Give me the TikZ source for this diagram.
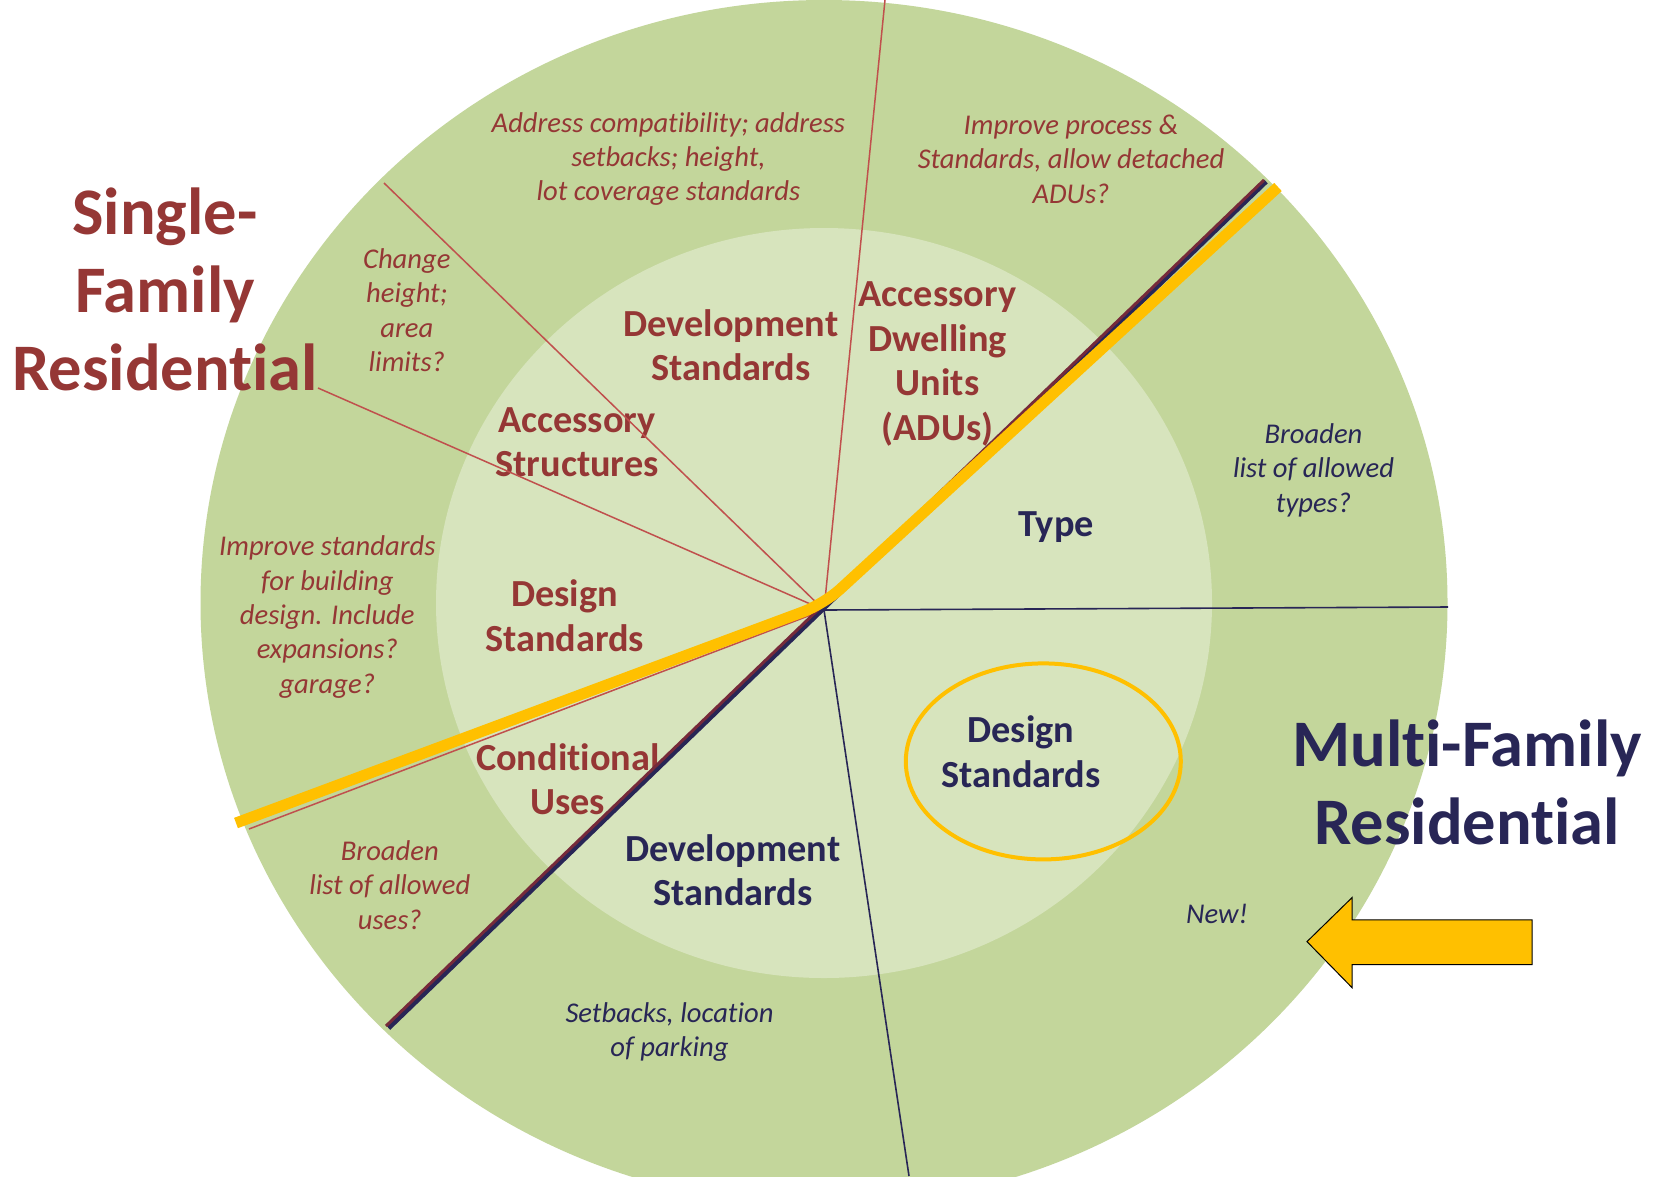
\documentclass[tikz,border=0pt]{standalone}
\usepackage{fontspec}
\setmainfont{Carlito}[Ligatures=NoCommon]
\usetikzlibrary{calc}

\definecolor{ringouter}{RGB}{195,214,155}
\definecolor{ringinner}{RGB}{215,228,189}
\definecolor{sfred}{RGB}{149,55,53}
\definecolor{mfnavy}{RGB}{40,38,86}
\definecolor{cutred}{RGB}{192,80,77}
\definecolor{cutmaroon}{RGB}{118,42,58}
\definecolor{gold}{RGB}{255,192,0}

\tikzset{
	zone/.style={font=\bfseries\fontsize{66.5}{78}\selectfont, align=center, inner sep=0pt},
	part/.style={font=\bfseries\fontsize{38.3}{44.5}\selectfont, align=center, inner sep=0pt},
	hint/.style={font=\itshape\fontsize{28.6}{34.4}\selectfont, align=center, inner sep=0pt},
	redcut/.style={draw=cutred, line width=1.5pt},
	navycut/.style={draw=mfnavy, line width=1.6pt},
}

\begin{document}
\begin{tikzpicture}[x=1pt,y=-1pt]
	%%%%% START %%%%%
	\useasboundingbox (0,0) rectangle (1661,1176);
	\fill[white] (0,0) rectangle (1661,1176);

	%%%%% RINGS %%%%%
	\begin{scope}
		\clip (0,0) rectangle (1661,1176);
		\fill[ringouter] (824,603) ellipse [x radius=623.5, y radius=603];
		\fill[ringinner] (824,603) ellipse [x radius=388, y radius=375];
	\end{scope}

	%%%%% TEXTS %%%%%
	\node[zone, text=sfred] (sfres) at (165,289) {Single-\\Family\\Residential};
	\node[zone, text=mfnavy] (mfres) at (1467,782) {Multi-Family\\Residential};

	\node[part, text=sfred] (sfdev) at (731,345) {Development\\Standards};
	\node[part, text=sfred] (sfadu) at (937.5,364) {Accessory\\Dwelling\\Units\\(ADUs)};
	\node[part, text=sfred] (sfacc) at (577,442) {Accessory\\Structures};
	\node[part, text=sfred] (sfdes) at (564.6,615.5) {Design\\Standards};
	\node[part, text=sfred] (sfcon) at (567.8,779) {Conditional\\Uses};
	\node[part, text=mfnavy] (mfdev) at (733,870) {Development\\Standards};
	\node[part, text=mfnavy] (mftype) at (1056,527) {Type};
	\node[part, text=mfnavy] (mfdes) at (1021,751.5) {Design\\Standards};

	\node[hint, text=sfred] (hsfdev) at (668.4,159) {Address compatibility; address\\setbacks; height,\\lot coverage standards};
	\node[hint, text=sfred] (hsfadu) at (1071,159) {Improve process \&\\Standards, allow detached\\ADUs?};
	\node[hint, text=sfred] (hsfacc) at (406.8,310) {Change\\height;\\area\\limits?};
	\node[hint, text=sfred] (hsfdes) at (327.3,617) {Improve standards\\for building\\design. Include\\expansions?\\garage?};
	\node[hint, text=sfred] (hsfcon) at (389.8,885) {Broaden\\list of allowed\\uses?};
	\node[hint, text=mfnavy] (hmftype) at (1313.5,470) {Broaden\\list of allowed\\types?};
	\node[hint, text=mfnavy] (hmfdev) at (669.5,1032) {Setbacks, location\\of parking};
	\node[hint, text=mfnavy] (hmfnew) at (1217,914) {New!};

	%%%%% CUTS %%%%%
	\begin{scope}
		\clip (0,0) rectangle (1661,1176);
		\coordinate (hub) at (824,610);
		\coordinate (cutadu) at (885,0);
		\coordinate (cutacc) at (384,183);
		\coordinate (cutdes) at (318,388);
		\coordinate (cutcon) at (249,829);
		\coordinate (cuttype) at (1448,607);
		\coordinate (cutmfdev) at (909,1176);

		\draw[redcut] (hub) -- (cutadu);
		\draw[redcut] (hub) -- (cutacc);
		\draw[redcut] (hub) -- (cutdes);
		\draw[redcut] (hub) -- (cutcon);
		\draw[navycut] (hub) -- (cuttype);
		\draw[navycut] (hub) -- (cutmfdev);

		% single / multi family border
		\draw[mfnavy, line width=5pt] (388.5,1028) -- (1266,181.5);
		\draw[cutmaroon, line width=3pt] (386,1026) -- (1264,180);
		\draw[gold, line width=11pt, rounded corners=22pt] (236,823) -- (824,604) -- (1278,187);
	\end{scope}

	%%%%% NEW %%%%%
	\draw[gold, line width=4pt] (1043.3,761.4) ellipse [x radius=137.5, y radius=98];
	\draw[fill=gold, draw=black, line width=1pt] (1307,941.6) -- (1352,897.6) -- (1352,919.8) -- (1532,919.8)
		-- (1532,964.6) -- (1352,964.6) -- (1352,987.6) -- cycle;
	%%%%% END %%%%%
\end{tikzpicture}
\end{document}
